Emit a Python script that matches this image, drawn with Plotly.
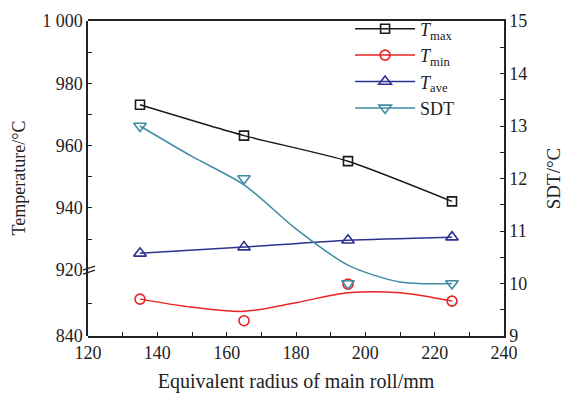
import plotly.graph_objects as go

# ---- data ----
radius = [135, 165, 195, 225]
t_max = [973.1, 963.2, 955.0, 942.1]
t_min = [884.8, 858.6, 903.0, 882.4]
t_ave = [925.4, 927.4, 929.6, 930.6]
sdt = [13.0, 12.0, 10.0, 10.0]

# fitted curves as drawn in the reference
curve_x = [135, 150, 165, 180, 195, 210, 225]
t_min_curve = [884.8, 875.0, 870.0, 880.5, 892.5, 892.5, 882.4]
sdt_curve = [13.0, 12.42, 11.88, 11.04, 10.35, 10.03, 10.0]

x_ticks = [120, 140, 160, 180, 200, 220, 240]
upper_ticks = [920, 940, 960, 980, 1000]
upper_ticktext = ["920", "940", "960", "980", "1 000"]
lower_ticks = [840]
sdt_ticks = [9, 10, 11, 12, 13, 14, 15]

C_MAX = "#1a1a1a"
C_MIN = "#ee2222"
C_AVE = "#2e3192"
C_SDT = "#3f8ca3"
FONT = "Liberation Serif"

fig = go.Figure()

# T_max (upper temperature axis)
fig.add_trace(go.Scatter(x=radius, y=t_max, mode="lines+markers", name="<i>T</i><sub>max</sub>",
                         line=dict(color=C_MAX, width=1.5, shape="spline", smoothing=0.6),
                         marker=dict(symbol="square-open", size=9, color=C_MAX, line=dict(width=1.6)),
                         xaxis="x", yaxis="y", legendrank=1))
# T_ave (upper temperature axis)
fig.add_trace(go.Scatter(x=radius, y=t_ave, mode="lines+markers", name="<i>T</i><sub>ave</sub>",
                         line=dict(color=C_AVE, width=1.5, shape="spline", smoothing=0.6),
                         marker=dict(symbol="triangle-up-open", size=11, color=C_AVE, line=dict(width=1.6)),
                         xaxis="x", yaxis="y", legendrank=3))
# T_min (lower temperature axis)
fig.add_trace(go.Scatter(x=curve_x, y=t_min_curve, mode="lines", showlegend=False,
                         line=dict(color=C_MIN, width=1.5, shape="spline", smoothing=0.9),
                         xaxis="x", yaxis="y2"))
fig.add_trace(go.Scatter(x=radius, y=t_min, mode="markers", showlegend=False,
                         marker=dict(symbol="circle-open", size=10, color=C_MIN, line=dict(width=1.6)),
                         xaxis="x", yaxis="y2"))
fig.add_trace(go.Scatter(x=[None], y=[None], mode="lines+markers", name="<i>T</i><sub>min</sub>",
                         line=dict(color=C_MIN, width=1.5),
                         marker=dict(symbol="circle-open", size=10, color=C_MIN, line=dict(width=1.6)),
                         xaxis="x", yaxis="y2", legendrank=2))
# SDT (right axis)
fig.add_trace(go.Scatter(x=curve_x, y=sdt_curve, mode="lines", showlegend=False,
                         line=dict(color=C_SDT, width=1.5, shape="spline", smoothing=0.8),
                         xaxis="x", yaxis="y3"))
fig.add_trace(go.Scatter(x=radius, y=sdt, mode="markers", showlegend=False,
                         marker=dict(symbol="triangle-down-open", size=11, color=C_SDT, line=dict(width=1.6)),
                         xaxis="x", yaxis="y3"))
fig.add_trace(go.Scatter(x=[None], y=[None], mode="lines+markers", name="SDT",
                         line=dict(color=C_SDT, width=1.5),
                         marker=dict(symbol="triangle-down-open", size=11, color=C_SDT, line=dict(width=1.6)),
                         xaxis="x", yaxis="y3", legendrank=4))

BREAK = 0.209
tickfont = dict(family=FONT, size=18, color="#222")
common_y = dict(showline=True, linecolor="#222", linewidth=1.5, ticks="inside", ticklen=4,
                tickwidth=1.2, tickcolor="#222", showgrid=False, zeroline=False, tickfont=tickfont,
                anchor="x", side="left", automargin=False)

fig.update_layout(
    width=567, height=395,
    margin=dict(l=88, r=63, t=20, b=59),
    paper_bgcolor="white", plot_bgcolor="rgba(0,0,0,0)",
    font=dict(family=FONT, size=16, color="#222"),
    showlegend=True,
    legend=dict(x=0.63, y=1.03, xanchor="left", yanchor="top", bgcolor="rgba(0,0,0,0)",
                font=dict(family=FONT, size=18, color="#222"), itemwidth=60,
                tracegroupgap=0),
    xaxis=dict(range=[120, 240], tickvals=x_ticks, showline=True, linecolor="#222", linewidth=1.5,
               mirror=True, ticks="inside", ticklen=4, tickwidth=1.2, tickcolor="#222",
               minor=dict(dtick=10, tick0=120, ticks="inside", ticklen=4, tickcolor="#222"),
               showgrid=False, zeroline=False, tickfont=tickfont, anchor="y3", automargin=False,
               title=dict(text="Equivalent radius of main roll/mm", font=dict(family=FONT, size=20),
                          standoff=12)),
    yaxis=dict(domain=[BREAK, 1], range=[920, 1000], tickvals=upper_ticks, ticktext=upper_ticktext,
               minor=dict(tickvals=[930, 950, 970, 990], ticks="inside", ticklen=4, tickcolor="#222"),
               **common_y),
    yaxis2=dict(domain=[0, BREAK], range=[840, 920], tickvals=lower_ticks,
                minor=dict(tickvals=[880], ticks="inside", ticklen=4, tickcolor="#222"),
                **common_y),
    yaxis3=dict(domain=[0, 1], range=[9, 15], tickvals=sdt_ticks, anchor="x", side="right",
                showline=True, linecolor="#222", linewidth=1.5, ticks="inside", ticklen=4,
                tickwidth=1.2, tickcolor="#222", showgrid=False, zeroline=False, tickfont=tickfont,
                automargin=False,
                minor=dict(dtick=0.5, tick0=9, ticks="inside", ticklen=4, tickcolor="#222"),
                title=dict(text="SDT/°C", font=dict(family=FONT, size=19), standoff=20)),
)

# y title spanning the whole broken left axis
fig.add_annotation(text="Temperature/°C", xref="paper", yref="paper", x=0, y=0.5,
                   xanchor="center", yanchor="middle", textangle=-90, showarrow=False,
                   xshift=-70, font=dict(family=FONT, size=18, color="#222"))

# axis-break marks
for dy in (-2, 2):
    fig.add_shape(type="line", xref="paper", yref="paper", xanchor=0, yanchor=BREAK,
                  xsizemode="pixel", ysizemode="pixel", x0=-5, x1=7, y0=dy - 2, y1=dy + 2,
                  line=dict(color="#222", width=1.3))

fig.write_html("out.html")
